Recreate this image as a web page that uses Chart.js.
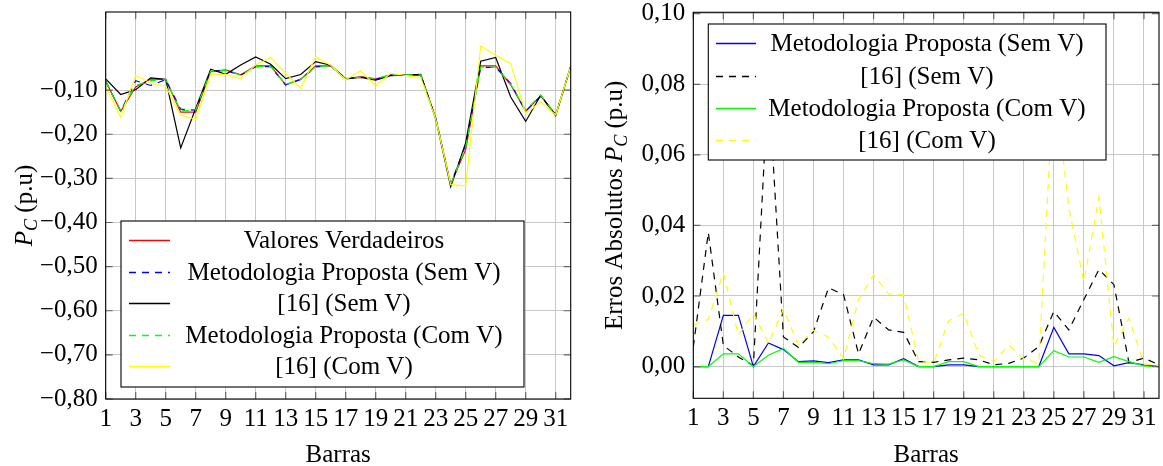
<!DOCTYPE html>
<html>
<head>
<meta charset="utf-8">
<script src="https://cdn.jsdelivr.net/npm/chart.js@4.4.1/dist/chart.umd.min.js"></script>
<style>
  html, body { margin: 0; padding: 0; background: #fff; }
  #wrap { position: relative; width: 1163px; height: 466px; }
  .box { position: absolute; top: 0; height: 466px; }
  #left { left: 0; width: 590px; }
  #right { left: 590px; width: 573px; }
</style>
</head>
<body>
<div id="wrap">
  <div class="box" id="left"><canvas id="pcChart" width="590" height="466"></canvas></div>
  <div class="box" id="right"><canvas id="errChart" width="573" height="466"></canvas></div>
</div>
<script>
const BARRAS = [1, 2, 3, 4, 5, 6, 7, 8, 9, 10, 11, 12, 13, 14, 15, 16,
                17, 18, 19, 20, 21, 22, 23, 24, 25, 26, 27, 28, 29, 30, 31, 32];
const X_TICKS = [1, 3, 5, 7, 9, 11, 13, 15, 17, 19, 21, 23, 25, 27, 29, 31];
const Y_TICKS_PC = [-0.8, -0.7, -0.6, -0.5, -0.4, -0.3, -0.2, -0.1];
const Y_TICKS_ERR = [0, 0.02, 0.04, 0.06, 0.08, 0.1];

// P_C por barra (p.u)
const pcVerdadeiro = [-0.080, -0.148, -0.093, -0.075, -0.076, -0.150, -0.150, -0.058,
  -0.054, -0.0654, -0.0451, -0.0451, -0.088, -0.0752, -0.0451, -0.0451,
  -0.0752, -0.0692, -0.0752, -0.0654, -0.0654, -0.0654, -0.163, -0.3135,
  -0.235, -0.0451, -0.045, -0.088, -0.148, -0.1128, -0.1556, -0.0466];
const pcPropostaSemV = [-0.080, -0.148, -0.0785, -0.0895, -0.076, -0.1433, -0.1452, -0.0566,
  -0.0556, -0.0665, -0.0470, -0.0470, -0.0885, -0.0757, -0.0473, -0.0451,
  -0.0752, -0.0697, -0.0757, -0.0654, -0.0654, -0.0654, -0.163, -0.3135,
  -0.224, -0.0487, -0.0486, -0.0849, -0.1478, -0.1139, -0.1561, -0.0466];
const pc16SemV = [-0.0745, -0.110, -0.099, -0.0723, -0.0757, -0.231, -0.1416, -0.0526,
  -0.064, -0.0431, -0.0247, -0.0415, -0.074, -0.0648, -0.0354, -0.0437,
  -0.0740, -0.0711, -0.0776, -0.0673, -0.0659, -0.0645, -0.1654, -0.3192,
  -0.219, -0.0347, -0.026, -0.1155, -0.171, -0.1117, -0.158, -0.0471];
const pcPropostaComV = [-0.080, -0.148, -0.0894, -0.0786, -0.076, -0.1468, -0.1449, -0.0568,
  -0.0552, -0.0662, -0.0468, -0.0468, -0.0872, -0.0759, -0.0470, -0.0451,
  -0.0752, -0.0706, -0.0738, -0.0654, -0.0654, -0.0654, -0.163, -0.3135,
  -0.2305, -0.0478, -0.0477, -0.0868, -0.1452, -0.1114, -0.1558, -0.0466];
const pc16ComV = [-0.0918, -0.1614, -0.0664, -0.0839, -0.0911, -0.1565, -0.1663, -0.064,
  -0.0643, -0.0738, -0.0429, -0.0261, -0.062, -0.0958, -0.0248, -0.0437,
  -0.0763, -0.0562, -0.0903, -0.0621, -0.0668, -0.0715, -0.1651, -0.3144,
  -0.317, -0.0001, -0.021, -0.040, -0.1537, -0.1265, -0.1563, -0.0471];

// erros absolutos de P_C (p.u)
const errPropostaSemV = [0, 0, 0.0145, 0.0145, 0, 0.0067, 0.0048, 0.0014,
  0.0016, 0.0011, 0.0019, 0.0019, 0.0005, 0.0005, 0.0022, 0,
  0, 0.0005, 0.0005, 0, 0, 0, 0, 0,
  0.0111, 0.0036, 0.0036, 0.0031, 0.0002, 0.0011, 0.0005, 0];
const err16SemV = [0.0055, 0.038, 0.006, 0.0027, 0.0003, 0.081, 0.0084, 0.0054,
  0.0099, 0.0223, 0.0204, 0.0036, 0.014, 0.0104, 0.0097, 0.0014,
  0.0012, 0.0019, 0.0024, 0.0019, 0.0005, 0.0009, 0.0024, 0.0057,
  0.0156, 0.0104, 0.019, 0.0275, 0.0232, 0.0011, 0.0024, 0.0005];
const errPropostaComV = [0, 0, 0.0036, 0.0036, 0, 0.0032, 0.0051, 0.0012,
  0.0012, 0.0008, 0.0017, 0.0017, 0.0008, 0.0007, 0.0019, 0,
  0, 0.0014, 0.0014, 0, 0, 0, 0, 0,
  0.0045, 0.0027, 0.0027, 0.0012, 0.0028, 0.0014, 0.0002, 0];
const err16ComV = [0.0118, 0.0134, 0.0266, 0.0089, 0.0151, 0.0065, 0.0163, 0.006,
  0.0103, 0.0084, 0.0022, 0.019, 0.026, 0.0206, 0.0203, 0.0014,
  0.0011, 0.013, 0.0151, 0.0033, 0.0014, 0.0061, 0.0022, 0.0009,
  0.082, 0.045, 0.024, 0.048, 0.0057, 0.0137, 0.0007, 0.0005];

const SERIF = '"Liberation Serif", serif';
const FS = 25;
const GRID = '#c8c8c8';
const DASH = [7, 6];

function pts(vals) {
  return vals.map((v, i) => ({ x: BARRAS[i], y: v }));
}

function fmt(v) {
  const s = Math.abs(v).toFixed(2).replace('.', ',');
  return v < -1e-9 ? '\u2212' + s : s;
}

function serie(label, vals, color, dash, order) {
  return {
    label: label, data: pts(vals), borderColor: color, backgroundColor: color,
    borderWidth: 1.2, borderDash: dash, pointRadius: 0, tension: 0, fill: false, order: order
  };
}

function eixos(yMin, yMax, yTicks, yWidth, xHeight) {
  return {
    x: {
      type: 'linear', min: 1, max: 32,
      afterBuildTicks: s => { s.ticks = X_TICKS.map(v => ({ value: v })); },
      afterFit: s => { s.height = xHeight; s.paddingLeft = 0; s.paddingRight = 0; },
      grid: { color: GRID, drawTicks: false },
      border: { display: false },
      ticks: { padding: 5, color: '#000', autoSkip: false, maxRotation: 0,
               font: { family: SERIF, size: FS }, callback: v => String(v) }
    },
    y: {
      type: 'linear', min: yMin, max: yMax,
      afterBuildTicks: s => { s.ticks = yTicks.map(v => ({ value: v })); },
      afterFit: s => { s.width = yWidth; s.paddingTop = 0; s.paddingBottom = 0; },
      grid: { color: GRID, drawTicks: false },
      border: { display: false },
      ticks: { padding: 8, color: '#000', font: { family: SERIF, size: FS }, callback: v => fmt(v) }
    }
  };
}

// moldura do eixo com as marcas internas
const moldura = {
  id: 'moldura',
  afterDraw(chart) {
    const { ctx, chartArea: ca, scales } = chart;
    ctx.save();
    ctx.strokeStyle = '#666';
    ctx.lineWidth = 1.2;
    const L = 7;
    ctx.beginPath();
    scales.x.ticks.forEach(t => {
      const px = scales.x.getPixelForValue(t.value);
      ctx.moveTo(px, ca.bottom); ctx.lineTo(px, ca.bottom - L);
      ctx.moveTo(px, ca.top); ctx.lineTo(px, ca.top + L);
    });
    scales.y.ticks.forEach(t => {
      const py = scales.y.getPixelForValue(t.value);
      ctx.moveTo(ca.left, py); ctx.lineTo(ca.left + L, py);
      ctx.moveTo(ca.right, py); ctx.lineTo(ca.right - L, py);
    });
    ctx.stroke();
    ctx.strokeStyle = '#000';
    ctx.lineWidth = 1.1;
    ctx.strokeRect(ca.left, ca.top, ca.right - ca.left, ca.bottom - ca.top);
    ctx.restore();
  }
};

// legenda dentro da área do gráfico, com fundo branco
const caixaLegenda = {
  id: 'caixaLegenda',
  afterDatasetsDraw(chart, args, o) {
    const { ctx, chartArea: ca } = chart;
    const x0 = ca.left + o.dx, y0 = ca.top + o.dy;
    ctx.save();
    ctx.fillStyle = '#fff';
    ctx.fillRect(x0, y0, o.w, o.h);
    ctx.strokeStyle = '#000';
    ctx.lineWidth = 1.1;
    ctx.strokeRect(x0, y0, o.w, o.h);
    ctx.font = FS + 'px ' + SERIF;
    ctx.textAlign = 'center';
    ctx.textBaseline = 'middle';
    chart.data.datasets.forEach((ds, i) => {
      const y = Math.round(y0 + o.row0 + i * o.rowH) + 0.5;
      ctx.strokeStyle = ds.borderColor;
      ctx.lineWidth = 1.3;
      ctx.setLineDash(ds.borderDash);
      ctx.beginPath();
      ctx.moveTo(x0 + o.line0, y);
      ctx.lineTo(x0 + o.line1, y);
      ctx.stroke();
      ctx.setLineDash([]);
      ctx.fillStyle = '#000';
      ctx.fillText(ds.label, x0 + o.textX, y + 1);
    });
    ctx.restore();
  }
};

// títulos dos eixos (P_C com índice)
const titulos = {
  id: 'titulos',
  afterDraw(chart, args, o) {
    const { ctx, chartArea: ca } = chart;
    ctx.save();
    ctx.fillStyle = '#000';
    ctx.textBaseline = 'alphabetic';
    ctx.textAlign = 'center';
    ctx.font = FS + 'px ' + SERIF;
    ctx.fillText('Barras', (ca.left + ca.right) / 2, o.xTitleY);

    const partes = [
      { t: o.prefixo, f: FS + 'px ' + SERIF, dy: 0 },
      { t: 'P', f: 'italic ' + FS + 'px ' + SERIF, dy: 0 },
      { t: 'C', f: 'italic ' + Math.round(FS * 0.7) + 'px ' + SERIF, dy: 5 },
      { t: ' (p.u)', f: FS + 'px ' + SERIF, dy: 0 }
    ];
    ctx.textAlign = 'left';
    let total = 0;
    partes.forEach(p => { ctx.font = p.f; p.w = ctx.measureText(p.t).width; total += p.w; });
    ctx.translate(o.yTitleX, (ca.top + ca.bottom) / 2);
    ctx.rotate(-Math.PI / 2);
    let x = -total / 2;
    partes.forEach(p => {
      ctx.font = p.f;
      ctx.fillText(p.t, x, 8 + p.dy);
      x += p.w;
    });
    ctx.restore();
  }
};

Chart.defaults.font.family = SERIF;
Chart.defaults.color = '#000';

function desenhar() {
  new Chart(document.getElementById('pcChart'), {
    type: 'line',
    data: {
      datasets: [
        serie('Valores Verdadeiros', pcVerdadeiro, '#ff0000', [], 5),
        serie('Metodologia Proposta (Sem V)', pcPropostaSemV, '#0000ff', DASH, 4),
        serie('[16] (Sem V)', pc16SemV, '#000000', [], 3),
        serie('Metodologia Proposta (Com V)', pcPropostaComV, '#00ff00', DASH, 2),
        serie('[16] (Com V)', pc16ComV, '#ffff00', [], 1)
      ]
    },
    options: {
      responsive: false,
      animation: false,
      layout: { padding: { left: 0, top: 12, right: 19.3, bottom: 0 } },
      scales: eixos(-0.8, 0.077, Y_TICKS_PC, 105.7, 67),
      plugins: {
        legend: { display: false },
        tooltip: { enabled: false },
        caixaLegenda: { dx: 15.3, dy: 209, w: 403, h: 166, row0: 19, rowH: 31.5, line0: 8, line1: 49, textX: 223 },
        titulos: { prefixo: '', yTitleX: 24, xTitleY: 462 }
      }
    },
    plugins: [caixaLegenda, titulos, moldura]
  });

  new Chart(document.getElementById('errChart'), {
    type: 'line',
    data: {
      datasets: [
        serie('Metodologia Proposta (Sem V)', errPropostaSemV, '#0000ff', [], 4),
        serie('[16] (Sem V)', err16SemV, '#000000', DASH, 3),
        serie('Metodologia Proposta (Com V)', errPropostaComV, '#00ff00', [], 2),
        serie('[16] (Com V)', err16ComV, '#ffff00', DASH, 1)
      ]
    },
    options: {
      responsive: false,
      animation: false,
      layout: { padding: { left: 0, top: 12.3, right: 4, bottom: 0 } },
      scales: eixos(-0.009, 0.1004, Y_TICKS_ERR, 103.3, 67.7),
      plugins: {
        legend: { display: false },
        tooltip: { enabled: false },
        caixaLegenda: { dx: 15, dy: 11.7, w: 397.7, h: 136, row0: 19.3, rowH: 32.2, line0: 7.7, line1: 47.7, textX: 218.7 },
        titulos: { prefixo: 'Erros Absolutos ', yTitleX: 24, xTitleY: 462 }
      }
    },
    plugins: [caixaLegenda, titulos, moldura]
  });
}

Promise.all([
  document.fonts.load('25px "Liberation Serif"'),
  document.fonts.load('italic 25px "Liberation Serif"')
]).then(desenhar, desenhar);
</script>
</body>
</html>
